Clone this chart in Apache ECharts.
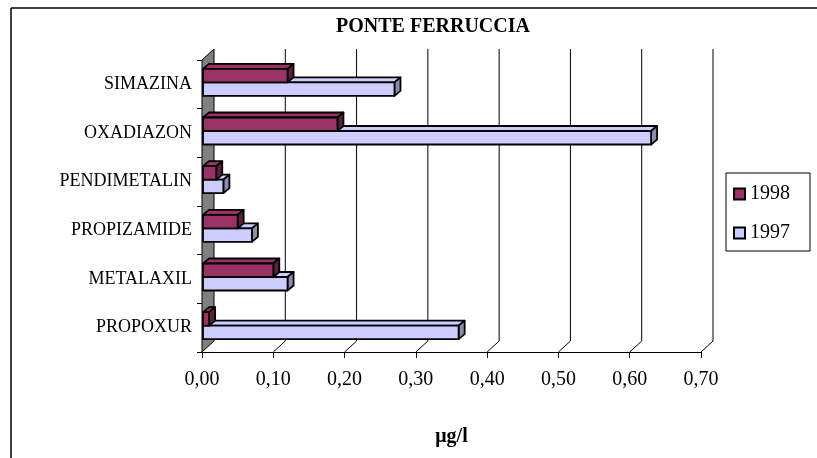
<!DOCTYPE html>
<html><head><meta charset="utf-8">
<script src="https://cdn.jsdelivr.net/npm/echarts@6/dist/echarts.min.js"></script>
<style>html,body{margin:0;padding:0;background:#fff}#c{width:817px;height:458px}</style>
</head><body><div id="c"></div>
<script>
const categories = ['SIMAZINA','OXADIAZON','PENDIMETALIN','PROPIZAMIDE','METALAXIL','PROPOXUR'];
const values1998 = [0.12,0.19,0.02,0.05,0.10,0.01];
const values1997 = [0.27,0.63,0.03,0.07,0.12,0.36];
const xTicks = [0,0.1,0.2,0.3,0.4,0.5,0.6,0.7];
const seriesNames = ['1998','1997'];

const DX=12, DY=11;
const BDX=6, BDY=5;
const FONT='"Liberation Serif", "Times New Roman", serif';

function barRender(colors, y0off, y1off){
  return function(params, api){
    const v = api.value(0), c = api.value(1);
    const p0 = api.coord([0,c]); const p1 = api.coord([v,c]);
    const x0=p0[0]+1, x1=p1[0], yt=p0[1]+y0off, yb=p0[1]+y1off;
    const st={stroke:'#000', lineWidth:1.8, lineJoin:'round'};
    return {type:'group', children:[
      {type:'polygon', shape:{points:[[x0,yt],[x0+BDX,yt-BDY],[x1+BDX,yt-BDY],[x1,yt]]}, style:Object.assign({fill:colors.top},st)},
      {type:'polygon', shape:{points:[[x1,yt],[x1+BDX,yt-BDY],[x1+BDX,yb-BDY],[x1,yb]]}, style:Object.assign({fill:colors.side},st)},
      {type:'rect', shape:{x:x0,y:yt,width:x1-x0,height:yb-yt}, style:Object.assign({fill:colors.front},st)}
    ]};
  };
}

function decorRender(params, api){
  const t = api.value(0);
  const cs = params.coordSys;
  const x = api.coord([t,0])[0];
  const top = cs.y, bottom = cs.y + cs.height;
  if (t === 0) {
    return {type:'polygon', shape:{points:[[x,top],[x+DX,top-DY],[x+DX,bottom-DY],[x,bottom]]},
      style:{fill:'#808080', stroke:'#000', lineWidth:1}};
  }
  return {type:'group', children:[
    {type:'line', shape:{x1:x+DX,y1:top-DY,x2:x+DX,y2:bottom-DY}, style:{stroke:'#000',lineWidth:1}},
    {type:'line', shape:{x1:x,y1:bottom,x2:x+DX,y2:bottom-DY}, style:{stroke:'#000',lineWidth:1}}
  ]};
}

const chart = echarts.init(document.getElementById('c'), null, {renderer:'canvas'});
chart.setOption({
  animation:false,
  backgroundColor:'#fff',
  grid:{left:202, right:116, top:60, bottom:106, containLabel:false},
  graphic:[
    {type:'line', shape:{x1:11,y1:8,x2:817,y2:8}, style:{stroke:'#000',lineWidth:1.5}, z:100},
    {type:'line', shape:{x1:11,y1:8,x2:11,y2:458}, style:{stroke:'#000',lineWidth:1.5}, z:100},
    {type:'text', x:433, y:27, style:{text:'PONTE FERRUCCIA', font:'bold 20px '+FONT, fill:'#000', textAlign:'center', textVerticalAlign:'middle'}}
  ],
  legend:{
    data:seriesNames, orient:'vertical', left:726, top:173,
    padding:[11,20,8,7], itemWidth:11, itemHeight:11, itemGap:19,
    borderColor:'#000', borderWidth:1, icon:'rect',
    textStyle:{fontFamily:FONT, fontSize:20, color:'#000', padding:[0,0,0,0]}
  },
  xAxis:{
    type:'value', min:0, max:0.7, interval:0.1,
    axisLine:{show:true, lineStyle:{color:'#000', width:1}},
    axisTick:{show:true, length:6, lineStyle:{color:'#000'}},
    splitLine:{show:false},
    axisLabel:{formatter:v=>v.toFixed(2).replace('.',','), fontFamily:FONT, fontSize:20, color:'#000', margin:18},
    name:'μg/l', nameLocation:'middle', nameGap:75,
    nameTextStyle:{fontFamily:FONT, fontSize:20, fontWeight:'bold', color:'#000'}
  },
  yAxis:{
    type:'category', data:categories, inverse:true,
    axisLine:{show:true, lineStyle:{color:'#000', width:1}},
    axisTick:{show:true, length:5, lineStyle:{color:'#000'}},
    splitLine:{show:false},
    axisLabel:{fontFamily:FONT, fontSize:18, color:'#000', margin:10}
  },
  series:[
    {type:'custom', name:'decor', data:xTicks.map(t=>[t,0]), renderItem:decorRender, clip:false, z:1, silent:true, encode:{x:0,y:1}},
    {type:'custom', name:'1997', data:values1997.map((v,i)=>[v,i]), encode:{x:0,y:1},
      itemStyle:{color:'#ccccff', borderColor:'#000', borderWidth:1}, clip:false, z:2,
      renderItem:barRender({front:'#ccccff', top:'#ccccff', side:'#8c8cb0'}, -2, 11.5)},
    {type:'custom', name:'1998', data:values1998.map((v,i)=>[v,i]), encode:{x:0,y:1},
      itemStyle:{color:'#993366', borderColor:'#000', borderWidth:1}, clip:false, z:3,
      renderItem:barRender({front:'#993366', top:'#993366', side:'#5c1f3d'}, -15.5, -2)}
  ]
});
</script></body></html>
